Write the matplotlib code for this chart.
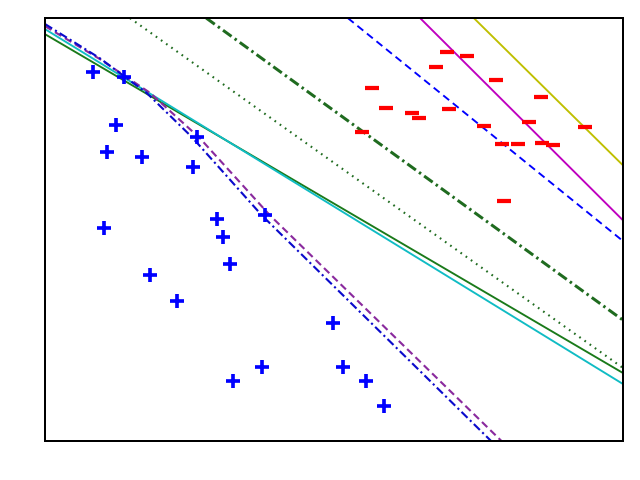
import numpy as np
import matplotlib
matplotlib.use('Agg')
import matplotlib.pyplot as plt

# positive class (+)
pos_x = [0.83, 1.37, 1.23, 1.07, 1.68, 2.63, 2.56, 1.02, 2.98, 3.08,
         3.20, 3.81, 1.82, 2.28, 3.75, 3.25, 4.98, 5.16, 5.55, 5.87]
pos_y = [8.72, 8.61, 7.47, 6.83, 6.71, 7.19, 6.48, 5.04, 5.25, 4.82,
         4.18, 5.34, 3.92, 3.31, 1.75, 1.42, 2.79, 1.75, 1.42, 0.83]

# negative class (_)
neg_x = [6.96, 7.30, 6.76, 7.80, 5.66, 8.58, 5.90, 6.99, 6.35, 6.47,
         5.48, 7.60, 8.37, 9.34, 7.91, 8.18, 8.60, 8.79, 7.94]
neg_y = [9.20, 9.10, 8.84, 8.53, 8.35, 8.13, 7.87, 7.85, 7.75, 7.64,
         7.30, 7.45, 7.54, 7.42, 7.02, 7.02, 7.04, 7.00, 5.67]

# decision boundaries
yellow_x, yellow_y = [7.42, 10.0], [10.0, 6.52]
magenta_x, magenta_y = [6.49, 10.0], [10.0, 5.22]
bdash_x, bdash_y = [5.24, 10.0], [10.0, 4.73]
dgdashdot_x, dgdashdot_y = [2.79, 10.0], [10.0, 2.86]
dgdot_x, dgdot_y = [1.47, 10.0], [10.0, 1.73]
green_x, green_y = [0.0, 10.0], [9.62, 1.61]
cyan_x, cyan_y = [0.0, 10.0], [9.74, 1.35]
bdashdot_x = [0.0, 0.95, 1.76, 2.54, 3.75, 7.72]
bdashdot_y = [9.86, 9.05, 8.23, 7.19, 5.34, 0.0]
purple_x = [0.0, 0.95, 1.82, 2.68, 3.89, 7.90]
purple_y = [9.81, 9.03, 8.23, 7.16, 5.34, 0.0]

fig = plt.figure(figsize=(8, 6), dpi=80)
ax = fig.add_axes([0.0703, 0.081, 0.9031, 0.8813])

ax.plot(yellow_x, yellow_y, color='#bfbf00', lw=1.7)
ax.plot(magenta_x, magenta_y, color='#bf00bf', lw=1.7)
ax.plot(bdash_x, bdash_y, color='b', lw=1.7, dashes=(4, 2.5))
ax.plot(dgdashdot_x, dgdashdot_y, color='#1f6b1f', lw=2.7, dashes=(3.5, 1.3, 0.8, 1.3))
ax.plot(dgdot_x, dgdot_y, color='#1f6b1f', lw=1.9, dashes=(0.8, 2.2))
ax.plot(green_x, green_y, color='#1a7a1a', lw=1.7)
ax.plot(cyan_x, cyan_y, color='#10bcc4', lw=1.7)
ax.plot(purple_x, purple_y, color='#8a2a9e', lw=1.9, dashes=(3.5, 2))
ax.plot(bdashdot_x, bdashdot_y, color='#0a0acc', lw=1.9, dashes=(4, 1.6, 1, 1.6))

ax.plot(pos_x, pos_y, '+', color='b', ms=12.5, mew=3.3, ls='none')
ax.plot(neg_x, neg_y, '_', color='r', ms=12.5, mew=3.8, ls='none')

ax.set_xlim(0, 10)
ax.set_ylim(0, 10)
ax.set_xticks([])
ax.set_yticks([])
for s in ax.spines.values():
    s.set_linewidth(1.8)

fig.savefig('out.png', dpi=80)
